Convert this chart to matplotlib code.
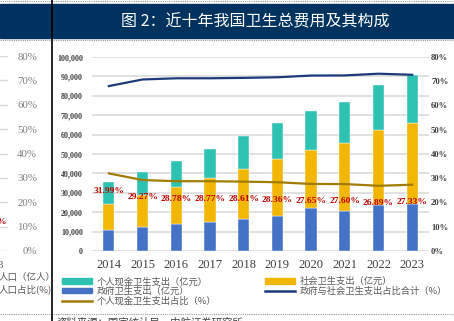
import matplotlib
matplotlib.use("agg")
from matplotlib import pyplot as plt
from matplotlib.lines import Line2D
from matplotlib.patches import Patch, Rectangle
import numpy as np

years = ["2014", "2015", "2016", "2017", "2018", "2019", "2020", "2021", "2022", "2023"]
gov = [10579.2, 12475.3, 13910.3, 15205.9, 16399.1, 18017.0, 21941.9, 20676.1, 23916.4, 24147.9]
social = [13437.8, 16506.7, 19096.7, 22258.8, 25810.8, 29150.6, 30273.7, 34963.3, 38467.1, 41676.8]
personal = [11295.4, 11992.7, 13337.9, 15133.6, 16912.0, 18673.9, 19959.4, 21205.7, 22944.0, 24751.1]
personal_pct = [31.99, 29.27, 28.78, 28.77, 28.61, 28.36, 27.65, 27.60, 26.89, 27.33]
gov_social_pct = [68.01, 70.73, 71.22, 71.23, 71.39, 71.64, 72.35, 72.40, 73.11, 72.67]
left_pct_ticks = [0, 10, 20, 30, 40, 50, 60, 70, 80]

C_TEAL = "#2EC2B3"
C_GOLD = "#F2B705"
C_BLUE = "#4472C4"
C_NAVY = "#1F3A7A"
C_OLIVE = "#A07C00"
C_RED = "#C00000"
SERIF = "Liberation Serif"
CJK = ["Noto Sans CJK SC", "DejaVu Sans"]

W, H = 454, 321
fig = plt.figure(figsize=(W / 100, H / 100), dpi=100)

def fx(px):
    return px / W

def fy(py):
    return 1 - py / H

# title bar and page decorations
fig.patches.append(Rectangle((0, fy(38)), 1, fy(4) - fy(38), transform=fig.transFigure,
                             color="#00325F", zorder=0))
fig.text(fx(255), fy(22), "图 2：近十年我国卫生总费用及其构成", color="white",
         fontsize=11.5, family=CJK, ha="center", va="center")
for yy in (1, 40, 314):
    fig.add_artist(Line2D([0, 1], [fy(yy), fy(yy)], transform=fig.transFigure,
                          color="#9A9A9A", lw=0.8, ls=(0, (1, 1))))
fig.add_artist(Line2D([fx(52), fx(52)], [0, 1], transform=fig.transFigure,
                      color="black", lw=1.2, zorder=5))

# partial neighbour chart on the left
ax0 = fig.add_axes([fx(-40), fy(251), fx(48), fy(56) - fy(251)])
ax0.set_ylim(0, 80)
ax0.set_yticks(left_pct_ticks)
ax0.set_yticklabels(["%d%%" % v for v in left_pct_ticks])
ax0.yaxis.tick_right()
ax0.tick_params(axis="y", length=0, pad=21, labelsize=7.8, labelcolor="#808080")
for t in ax0.get_yticklabels():
    t.set_horizontalalignment("right")
    t.set_family(SERIF)
ax0.set_xticks([])
ax0.grid(axis="y", color="#D9D9D9", lw=1)
for s in ax0.spines.values():
    s.set_visible(False)
fig.text(fx(6), fy(222), "%", color=C_RED, fontsize=6.8, family=SERIF,
         weight="bold", ha="right", va="center")
fig.text(fx(3), fy(266), "3", color="#595959", fontsize=8, family=SERIF,
         ha="right", va="center")
fig.text(fx(-1), fy(277), "人口（亿人）", color="#595959", fontsize=6.8, family=CJK,
         va="center")
fig.text(fx(-1), fy(289), "人口占比(%)", color="#595959", fontsize=6.8, family=CJK,
         va="center")
fig.text(fx(57), fy(318), "资料来源：国家统计局，中航证券研究所", color="#404040",
         fontsize=7.5, family=CJK, va="top")

# main chart
ax = fig.add_axes([fx(92), fy(251), fx(429) - fx(92), fy(57) - fy(251)])
x = np.arange(len(years))
bw = 0.33
ax.bar(x, gov, bw, color=C_BLUE, edgecolor="white", lw=0.3, zorder=2)
ax.bar(x, social, bw, bottom=gov, color=C_GOLD, edgecolor="white", lw=0.3, zorder=2)
ax.bar(x, personal, bw, bottom=np.add(gov, social), color=C_TEAL,
       edgecolor="white", lw=0.3, zorder=2)
ax.set_xlim(-0.5, 9.5)
ax.set_ylim(0, 100000)
ax.set_yticks(np.arange(0, 100001, 10000))
ax.set_yticklabels(["0"] + ["{:,}".format(v) for v in range(10000, 100001, 10000)])
ax.set_xticks(x)
ax.set_xticklabels(years)
ax.grid(axis="y", color="#D9D9D9", lw=1.1, zorder=0)
ax.set_axisbelow(True)
ax.tick_params(axis="y", length=0, pad=6.5, labelsize=5.8, labelcolor="#404040")
ax.tick_params(axis="x", length=0, pad=6, labelsize=9, labelcolor="#404040")
for t in ax.get_yticklabels():
    t.set_family(SERIF)
    t.set_weight("bold")
for t in ax.get_xticklabels():
    t.set_family(SERIF)
for s in ax.spines.values():
    s.set_visible(False)

ax2 = ax.twinx()
ax2.set_ylim(0, 80)
ax2.set_yticks(left_pct_ticks)
ax2.set_yticklabels(["%d%%" % v for v in left_pct_ticks])
ax2.tick_params(axis="y", length=0, pad=1.5, labelsize=6.2, labelcolor="#404040")
for t in ax2.get_yticklabels():
    t.set_family(SERIF)
    t.set_weight("bold")
for s in ax2.spines.values():
    s.set_visible(False)
ax2.plot(x, gov_social_pct, color=C_NAVY, lw=1.6, zorder=3)
ax2.plot(x, personal_pct, color=C_OLIVE, lw=1.6, zorder=3)
for xi, p in zip(x, personal_pct):
    ax2.annotate("%.2f%%" % p, (xi, p), xytext=(0, -12.5), textcoords="offset points",
                 ha="center", va="center", color=C_RED, fontsize=6.8,
                 family=SERIF, weight="bold", zorder=4)

handles = [
    Patch(color=C_TEAL, label="个人现金卫生支出（亿元）"),
    Patch(color=C_BLUE, label="政府卫生支出（亿元）"),
    Line2D([], [], color=C_OLIVE, lw=1.8, label="个人现金卫生支出占比（%）"),
    Patch(color=C_GOLD, label="社会卫生支出（亿元）"),
    Line2D([], [], color=C_NAVY, lw=1.8, label="政府与社会卫生支出占比合计（%）"),
]
leg = fig.legend(handles=handles, ncol=2, loc="upper left",
                 bbox_to_anchor=(fx(62), fy(277)), frameon=False,
                 prop={"family": CJK, "size": 6.7}, handlelength=3.2,
                 handleheight=0.55, handletextpad=0.5, columnspacing=5.3,
                 labelspacing=0.05, borderpad=0, borderaxespad=0)
for t in leg.get_texts():
    t.set_color("#595959")

fig.savefig("out.png", dpi=100)
